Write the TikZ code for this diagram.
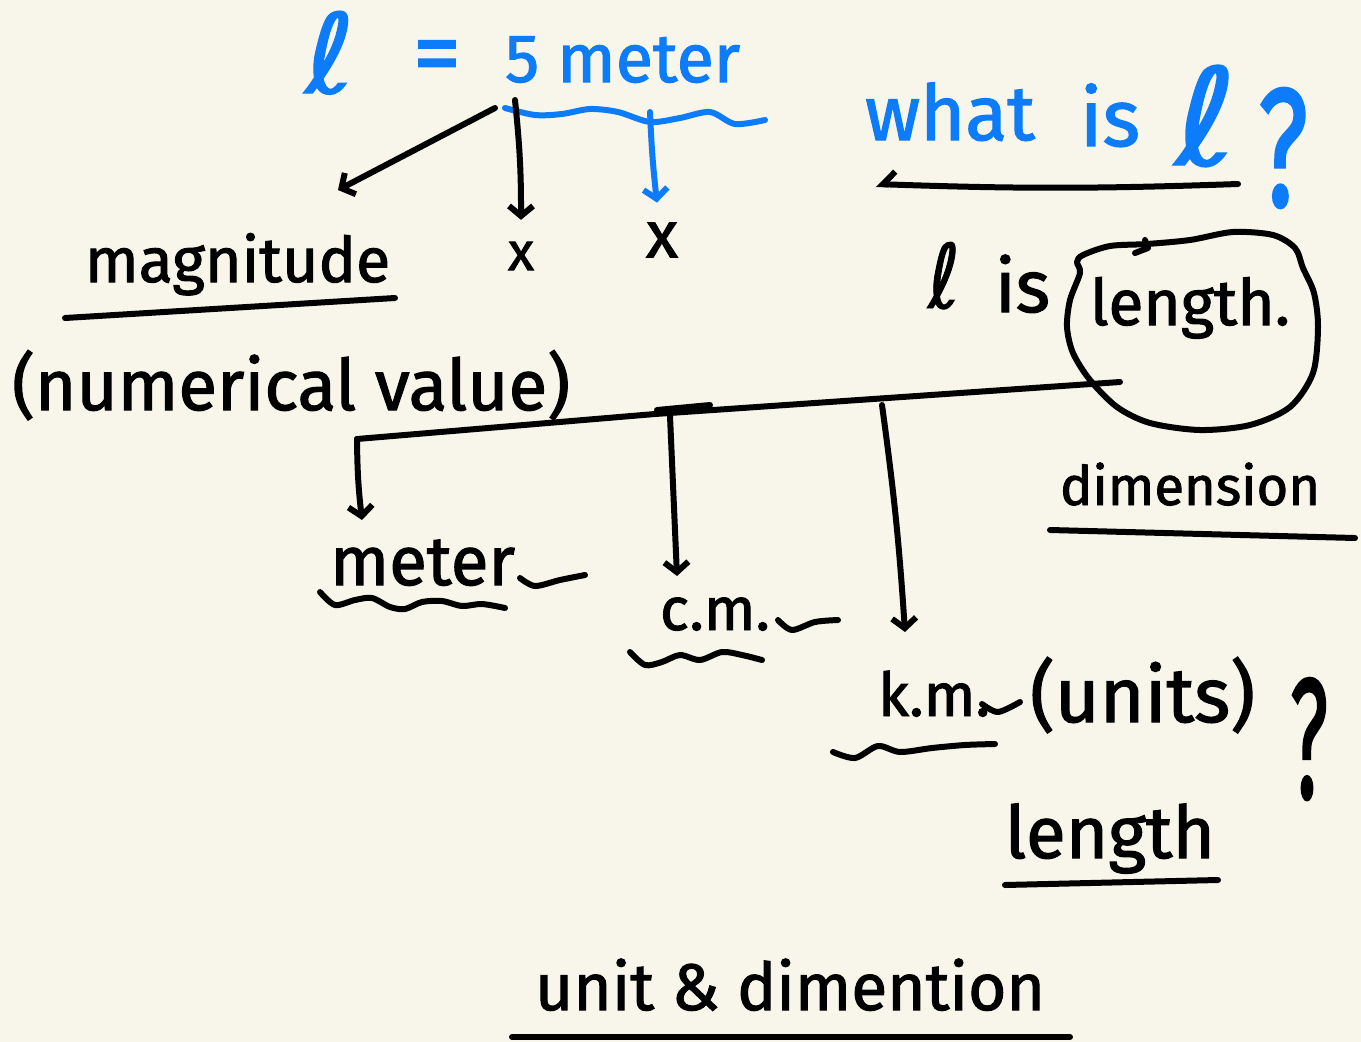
\documentclass[tikz,border=0pt]{standalone}
\usepackage{fontspec}
\setmainfont{Fira Sans}[FakeBold=1.6]
\newfontfamily\ellfont{DejaVu Sans}[FakeBold=1]
\usetikzlibrary{arrows.meta,calc}
\definecolor{paper}{RGB}{248,246,235}
\definecolor{pen}{RGB}{12,124,250}
\definecolor{inkc}{RGB}{0,0,0}
% handwritten word, scaled to a given width (and height) in pt
\newcommand{\hw}[2]{\resizebox{#1pt}{!}{#2}}
\newcommand{\hwh}[3]{\resizebox{#1pt}{#2pt}{#3}}
\tikzset{
  txt/.style={inner sep=0pt, outer sep=0pt, anchor=base west, text=inkc},
  btxt/.style={txt, text=pen},
  stroke/.style={line width=6pt, line cap=round, line join=round, draw=inkc},
  bstroke/.style={stroke, draw=pen},
  arr/.style={-{Straight Barb[length=10pt,width=24pt]}},
  halfarr/.style={-{Straight Barb[length=12pt,width=26pt,right]}}
}
\begin{document}
\begin{tikzpicture}[x=1pt,y=-1pt]
\fill[paper] (0,0) rectangle (1361,1042);
\useasboundingbox (0,0) rectangle (1361,1042);

% ---- l = 5 meter ----
\node[btxt] (ellA) at (305,93) {\hwh{50}{82}{\ellfont ℓ}};
\node[btxt, anchor=center] (eq) at (437,63) {\hw{48}{=}};
\node[btxt] (five) at (505,82) {\hw{235}{5 meter}};
\draw[bstroke] plot[smooth] coordinates {(505,108) (535,115) (562,114) (590,109) (618,112) (650,122) (680,118) (710,112) (735,124) (765,120)};

\coordinate (sMag) at (495,108);
\coordinate (sX1) at (515,100);
\coordinate (sX2) at (650,112);
\node[txt, anchor=center] (x1) at (521,256) {\hw{26}{x}};
\node[txt, anchor=center] (x2) at (662,240) {\hw{32}{x}};
\coordinate (eMag) at (338,190);
\draw[stroke, arr] (sMag) -- (eMag);
\draw[stroke, arr] (sX1) to[bend left=3] ($(x1.north)+(0,-22)$);
\draw[bstroke, arr] (sX2) to[bend right=2] ($(x2.north)+(-5,-20)$);

% ---- magnitude ----
\node[txt] (mag) at (85,282) {\hw{305}{magnitude}};
\draw[stroke] (65,318) -- (395,298);
\node[txt] (num) at (12,410) {\hw{558}{(numerical value)}};

% ---- what is l ? ----
\node[btxt] (what) at (865,140) {\hw{170}{what}};
\node[btxt] (is) at (1080,146) {\hw{60}{is}};
\node[btxt] (ellB) at (1175,165) {\hwh{62}{100}{\ellfont ℓ}};
\node[btxt, anchor=north west] (qA) at (1258,88) {\hwh{50}{118}{?}};
\coordinate (qR) at (1238,184);
\coordinate (qL) at (876,184);
\draw[stroke, halfarr] (qR) to[bend left=2] (qL);

% ---- l is length ----
\node[txt] (ellC) at (928,308) {\hwh{32}{66}{\ellfont ℓ}};
\node[txt] (isC) at (995,312) {\hw{55}{is}};
\node[txt] (len) at (1090,325) {\hw{200}{length.}};
\draw[stroke] plot[smooth cycle] coordinates {(1147,244) (1190,240) (1233,232) (1273,235) (1295,248) (1303,268) (1314,293) (1318,327) (1313,373) (1290,407) (1250,425) (1200,430) (1150,423) (1117,407) (1090,380) (1073,353) (1067,327) (1070,300) (1080,273) (1077,262) (1083,255) (1110,246)};
\draw[stroke] (1135,253) -- (1148,248) -- (1145,240);

\node[txt] (dim) at (1060,505) {\hw{260}{dimension}};
\draw[stroke] (1050,530) -- (1355,538);

% ---- units tree ----
\coordinate (hubR) at (1120,382);
\coordinate (hub) at (655,414);
\coordinate (hubL) at (357,439);
\draw[stroke] (hubR) -- (hub) -- (hubL);
\draw[stroke] (657,410) -- (710,405);

\node[txt] (meter) at (330,585) {\hw{185}{meter}};
\node[txt] (cm) at (660,630) {\hw{110}{c.m.}};
\node[txt] (km) at (878,716) {\hw{112}{k.m.}};
\node[txt] (units) at (1030,722) {\hw{225}{(units)}};
\node[txt, anchor=north west] (qB) at (1290,678) {\hwh{38}{120}{?}};

\coordinate (eMeter) at (362,520);
\coordinate (eCm) at (677,576);
\coordinate (eKm) at (905,632);
\draw[stroke, arr] (hubL) to[bend right=3] (eMeter);
\draw[stroke, arr] (670,416) -- (eCm);
\draw[stroke, arr] (882,405) to[bend left=2] (eKm);

% squiggles
\draw[stroke] plot[smooth] coordinates {(520,578) (535,586) (560,580) (585,575)};
\draw[stroke] plot[smooth] coordinates {(320,592) (335,605) (355,600) (372,598) (390,607) (405,609) (422,602) (442,601) (462,606) (482,604) (505,608)};
\draw[stroke] plot[smooth] coordinates {(778,620) (792,630) (815,622) (838,620)};
\draw[stroke] plot[smooth] coordinates {(630,652) (645,665) (662,662) (680,655) (700,660) (722,652) (742,655) (762,660)};
\draw[stroke] plot[smooth] coordinates {(982,704) (998,712) (1020,702)};
\draw[stroke] plot[smooth] coordinates {(833,752) (855,758) (878,746) (900,752) (932,748) (965,745) (995,744)};

% ---- length ----
\node[txt] (len2) at (1005,858) {\hw{210}{length}};
\draw[stroke] (1005,885) -- (1218,880);

% ---- title ----
\node[txt] (title) at (535,1010) {\hw{510}{unit \& dimention}};
\draw[stroke] (512,1037) -- (1070,1037);
\end{tikzpicture}
\end{document}
